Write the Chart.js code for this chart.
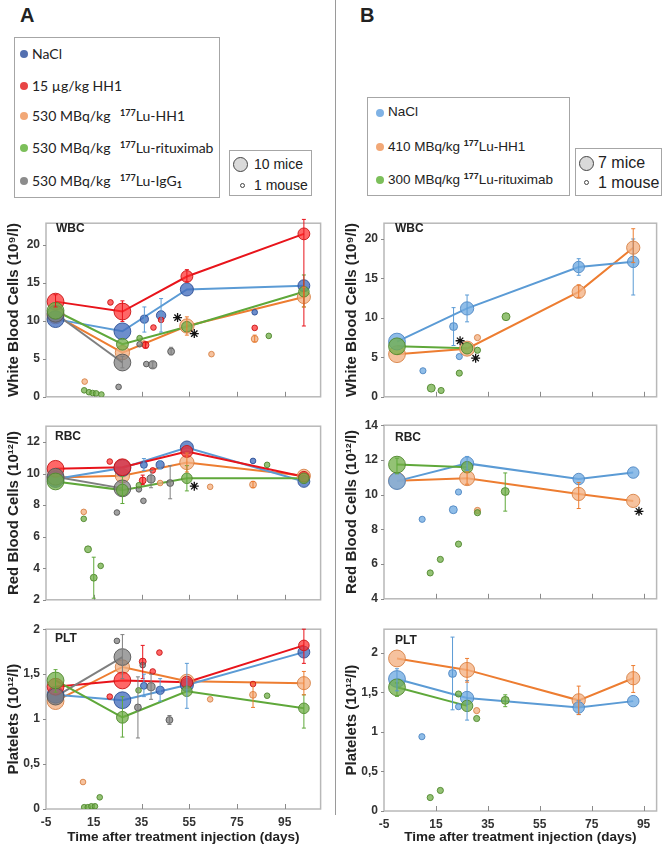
<!DOCTYPE html>
<html lang="en">
<head>
<meta charset="UTF-8" />
<title>Blood counts after treatment</title>
<script src="https://cdn.jsdelivr.net/npm/chart.js@4.4.1/dist/chart.umd.min.js"></script>
<style>
  body { margin: 0; width: 666px; height: 848px; position: relative; overflow: hidden; background: #fff; font-family: "Liberation Sans", Arial, sans-serif; color: #222; }
  canvas { position: absolute; }
  .letter { position: absolute; font: bold 20px "Liberation Sans", Arial, sans-serif; }
  .box { position: absolute; border: 1px solid #a6a6a6; background: #fff; }
  .item { position: absolute; white-space: nowrap; line-height: 18px; }
  .dot { position: absolute; border-radius: 50%; }
  .tag { position: absolute; font: bold 12px "Liberation Sans", Arial, sans-serif; }
  sup { font-size: 9px; font-weight: bold; vertical-align: 5px; }
  sub { font-size: 9px; font-weight: bold; vertical-align: -2px; }
</style>
</head>
<body>
  <div style="position:absolute;left:335px;top:0;width:1px;height:815px;background:#9a9a9a"></div>
  <div class="letter" style="left:20px;top:4px">A</div>
  <div class="letter" style="left:360px;top:4px">B</div>

  <!-- legend A -->
  <div class="box" style="left:14px;top:37px;width:204px;height:159px"></div>
  <div id="legA"></div>
  <div class="box" style="left:229px;top:150px;width:81px;height:44px"></div>
  <div class="dot" style="left:233px;top:157px;width:13px;height:13px;background:#d9d9d9;border:1.5px solid #444"></div>
  <div class="item" style="left:254px;top:155px;font-size:14px">10 mice</div>
  <div class="dot" style="left:240px;top:183px;width:3px;height:3px;border:1px solid #444"></div>
  <div class="item" style="left:254px;top:176px;font-size:14px">1 mouse</div>

  <!-- legend B -->
  <div class="box" style="left:367px;top:97px;width:201px;height:97px"></div>
  <div id="legB"></div>
  <div class="box" style="left:575px;top:148px;width:85px;height:46px"></div>
  <div class="dot" style="left:579px;top:156px;width:13px;height:13px;background:#d9d9d9;border:1.5px solid #444"></div>
  <div class="item" style="left:598px;top:154px;font-size:16px">7 mice</div>
  <div class="dot" style="left:584px;top:180px;width:3px;height:3px;border:1px solid #444"></div>
  <div class="item" style="left:598px;top:174px;font-size:16px">1 mouse</div>

  <canvas id="wbcA" width="330" height="200" style="left:0;top:210px"></canvas>
  <canvas id="rbcA" width="330" height="200" style="left:0;top:413px"></canvas>
  <canvas id="pltA" width="330" height="232" style="left:0;top:616px"></canvas>
  <canvas id="wbcB" width="328" height="200" style="left:338px;top:210px"></canvas>
  <canvas id="rbcB" width="328" height="200" style="left:338px;top:412px"></canvas>
  <canvas id="pltB" width="328" height="232" style="left:338px;top:616px"></canvas>

  <div class="tag" style="left:56px;top:221px">WBC</div>
  <div class="tag" style="left:55px;top:429px">RBC</div>
  <div class="tag" style="left:55px;top:631px">PLT</div>
  <div class="tag" style="left:395px;top:221px">WBC</div>
  <div class="tag" style="left:395px;top:430px">RBC</div>
  <div class="tag" style="left:395px;top:633px">PLT</div>

<script>
// ---- categories ----
const groupsA = ["Ritux", "IgG1", "HH1", "NaCl", "LuHH1"]; // drawing order, first on top
const groupsB = ["Ritux", "NaCl", "LuHH1"];
const legendA = [
  ["NaCl", "NaCl"],
  ["HH1", "15 µg/kg HH1"],
  ["LuHH1", "530 MBq/kg <span style='margin-left:6px'></span><sup>177</sup>Lu-HH1"],
  ["Ritux", "530 MBq/kg <span style='margin-left:6px'></span><sup>177</sup>Lu-rituximab"],
  ["IgG1", "530 MBq/kg <span style='margin-left:6px'></span><sup>177</sup>Lu-IgG<sub>1</sub>"]
];
const legendB = [
  ["NaCl", "NaCl"],
  ["LuHH1", "410 MBq/kg <sup>177</sup>Lu-HH1"],
  ["Ritux", "300 MBq/kg <sup>177</sup>Lu-rituximab"]
];
const xTicks = [-5, 15, 35, 55, 75, 95];
const xTitle = "Time after treatment injection (days)";

// rows: [group, day, value, mice, errLow, errHigh]
// ---- panel A, WBC (10^9/l) ----
const wbcA_mean = [
  ["NaCl", -1, 10.2, 10], ["NaCl", 27, 8.6, 10], ["NaCl", 54, 14.1, 7], ["NaCl", 103, 14.6, 6],
  ["HH1", -1, 12.5, 10, 11.8, 13.4], ["HH1", 27, 11.2, 10, 9.9, 12.6], ["HH1", 54, 15.8, 6, 15.1, 16.7], ["HH1", 103, 21.4, 6, 9.3, 23.3],
  ["LuHH1", -1, 10.7, 10], ["LuHH1", 27, 5.8, 8], ["LuHH1", 54, 9.3, 8, 8.1, 10.5], ["LuHH1", 103, 13.1, 7, 11.8, 14.4],
  ["Ritux", -1, 11.3, 10], ["Ritux", 27, 6.9, 6], ["Ritux", 54, 9.2, 5], ["Ritux", 103, 13.8, 5, 11.8, 16.0],
  ["IgG1", -1, 10.9, 10], ["IgG1", 27, 4.5, 10, 3.8, 5.3]
];
const wbcA_single = [
  ["HH1", 22, 12.4, 1], ["HH1", 36.7, 6.8, 2, 6.4, 7.2], ["HH1", 40, 9.1, 1], ["HH1", 43.2, 10.1, 1], ["HH1", 82.4, 9.05, 1],
  ["NaCl", 36.2, 10.2, 3, 8.5, 11.8], ["NaCl", 43.2, 10.7, 4, 8.5, 12.9], ["NaCl", 82.4, 11.1, 1],
  ["LuHH1", 11.2, 2.0, 1], ["LuHH1", 36, 7.0, 1], ["LuHH1", 64.3, 5.6, 1], ["LuHH1", 82.4, 7.6, 2, 7.2, 8.1],
  ["Ritux", 11, 0.85, 1], ["Ritux", 13, 0.6, 1], ["Ritux", 14.5, 0.5, 1], ["Ritux", 16, 0.45, 1], ["Ritux", 18.2, 0.3, 1],
  ["Ritux", 34.2, 7.7, 1], ["Ritux", 88.3, 8.0, 1],
  ["IgG1", 25.4, 1.3, 1], ["IgG1", 34.2, 6.9, 1], ["IgG1", 37, 4.3, 1], ["IgG1", 39.7, 4.2, 3, 3.8, 4.6], ["IgG1", 47.4, 5.95, 2, 5.5, 6.5]
];
const wbcA_stars = [[50.1, 10.4], [57.1, 8.3]];
const wbcA_yTicks = [0, 5, 10, 15, 20];

// ---- panel A, RBC (10^12/l) ----
const rbcA_mean = [
  ["NaCl", -1, 9.65, 10], ["NaCl", 27, 10.35, 10], ["NaCl", 54, 11.65, 7], ["NaCl", 103, 9.5, 6],
  ["HH1", -1, 10.3, 10], ["HH1", 27, 10.4, 10], ["HH1", 54, 11.4, 6], ["HH1", 103, 9.8, 5],
  ["LuHH1", -1, 9.75, 10], ["LuHH1", 27, 9.86, 8], ["LuHH1", 54, 10.7, 8, 10.1, 11.3], ["LuHH1", 103, 9.86, 7],
  ["Ritux", -1, 9.5, 10], ["Ritux", 27, 8.95, 6, 8.1, 9.8], ["Ritux", 54, 9.7, 5, 8.9, 10.5], ["Ritux", 103, 9.7, 5],
  ["IgG1", -1, 9.8, 10], ["IgG1", 27, 9.06, 10]
];
const rbcA_single = [
  ["HH1", 21.7, 10.76, 1], ["HH1", 39.7, 10.2, 1], ["HH1", 35.5, 9.56, 2, 9.3, 9.9],
  ["NaCl", 36, 10.55, 2, 10.2, 10.95], ["NaCl", 42.8, 10.55, 3, 10.3, 10.8], ["NaCl", 81.7, 10.8, 1],
  ["LuHH1", 10.8, 7.57, 1], ["LuHH1", 42.8, 9.4, 1], ["LuHH1", 63.75, 9.16, 1], ["LuHH1", 81.7, 9.3, 2, 9.1, 9.5],
  ["Ritux", 10.8, 7.13, 1], ["Ritux", 12.6, 5.2, 2], ["Ritux", 15, 3.4, 2, 2.1, 4.7], ["Ritux", 17.9, 4.15, 1],
  ["Ritux", 33.9, 9.26, 1], ["Ritux", 87.6, 10.55, 1],
  ["IgG1", 24.7, 7.53, 1], ["IgG1", 35.8, 8.27, 1], ["IgG1", 33.9, 9.0, 1], ["IgG1", 39, 9.66, 3, 9.1, 10.2], ["IgG1", 47, 9.4, 2, 8.4, 10.5]
];
const rbcA_stars = [[57.1, 9.2]];
const rbcA_yTicks = [2, 4, 6, 8, 10, 12];

// ---- panel A, PLT (10^12/l) ----
const pltA_mean = [
  ["NaCl", -1, 1.27, 10], ["NaCl", 27, 1.21, 10], ["NaCl", 54, 1.38, 7, 1.12, 1.62], ["NaCl", 103, 1.745, 6],
  ["HH1", -1, 1.36, 10], ["HH1", 27, 1.43, 10], ["HH1", 54, 1.41, 6], ["HH1", 103, 1.82, 5, 1.62, 2.0],
  ["LuHH1", -1, 1.2, 10], ["LuHH1", 27, 1.58, 8], ["LuHH1", 54, 1.42, 8], ["LuHH1", 103, 1.40, 7, 1.27, 1.53],
  ["Ritux", -1, 1.43, 10, 1.3, 1.55], ["Ritux", 27, 1.02, 6, 0.8, 1.25], ["Ritux", 54, 1.31, 5], ["Ritux", 103, 1.12, 5, 0.9, 1.27],
  ["IgG1", -1, 1.25, 10], ["IgG1", 27, 1.69, 10, 1.45, 1.94]
];
const pltA_single = [
  ["HH1", 21.7, 1.25, 1], ["HH1", 35.5, 1.64, 2, 1.45, 1.82], ["HH1", 39.7, 1.53, 1], ["HH1", 42.5, 1.74, 1], ["HH1", 81.7, 1.39, 1],
  ["NaCl", 36, 1.37, 2, 1.25, 1.5], ["NaCl", 42.8, 1.32, 3, 1.2, 1.45],
  ["LuHH1", 10.5, 0.3, 1], ["LuHH1", 63.75, 1.22, 1], ["LuHH1", 81.7, 1.27, 2, 1.13, 1.4],
  ["Ritux", 11, 0.02, 1], ["Ritux", 12.5, 0.02, 1], ["Ritux", 14, 0.03, 1], ["Ritux", 15.5, 0.03, 1], ["Ritux", 17.5, 0.13, 1],
  ["Ritux", 33.75, 1.32, 1], ["Ritux", 87.6, 1.26, 1],
  ["IgG1", 24.7, 1.87, 1], ["IgG1", 35.5, 1.6, 1], ["IgG1", 33.5, 1.13, 2, 0.79, 1.47], ["IgG1", 39, 1.36, 3, 1.22, 1.5], ["IgG1", 46.7, 0.99, 2, 0.94, 1.04]
];
const pltA_yTicks = [0, 0.5, 1, 1.5, 2];

// ---- panel B, WBC ----
const wbcB_mean = [
  ["NaCl", 0, 7.0, 7], ["NaCl", 27, 11.2, 5, 9.5, 12.9], ["NaCl", 70, 16.45, 4, 15.4, 17.5], ["NaCl", 91, 17.1, 4, 12.9, 20.0],
  ["LuHH1", 0, 5.4, 7], ["LuHH1", 27, 6.1, 6], ["LuHH1", 70, 13.3, 5, 12.6, 14.2], ["LuHH1", 91, 18.9, 5, 17.0, 21.3],
  ["Ritux", 0, 6.4, 7], ["Ritux", 27, 6.15, 4]
];
const wbcB_single = [
  ["NaCl", 10, 3.3, 1], ["NaCl", 21.8, 8.9, 2, 6.5, 11.3], ["NaCl", 24, 5.1, 1],
  ["LuHH1", 31, 7.5, 1],
  ["Ritux", 13.2, 1.1, 2], ["Ritux", 17, 0.8, 1], ["Ritux", 24, 3.0, 1], ["Ritux", 31, 5.9, 1], ["Ritux", 42, 10.15, 2]
];
const wbcB_stars = [[24.3, 7.1], [30.3, 4.9]];
const wbcB_yTicks = [0, 5, 10, 15, 20];

// ---- panel B, RBC ----
const rbcB_mean = [
  ["NaCl", 0, 10.78, 7], ["NaCl", 27, 11.8, 5, 11.4, 12.2], ["NaCl", 70, 10.9, 4], ["NaCl", 91, 11.27, 4],
  ["LuHH1", 0, 10.8, 7], ["LuHH1", 27, 10.95, 6, 10.6, 11.3], ["LuHH1", 70, 10.04, 5, 9.2, 10.7], ["LuHH1", 91, 9.64, 5],
  ["Ritux", 0, 11.73, 7, 11.2, 12.1], ["Ritux", 27, 11.58, 4]
];
const rbcB_single = [
  ["NaCl", 9.7, 8.58, 1], ["NaCl", 21.7, 9.13, 2], ["NaCl", 23.7, 10.15, 1],
  ["LuHH1", 31, 9.09, 1],
  ["Ritux", 12.8, 5.49, 1], ["Ritux", 16.7, 6.27, 1], ["Ritux", 23.7, 7.15, 1], ["Ritux", 31, 8.96, 1], ["Ritux", 41.7, 10.18, 2, 9.05, 11.25]
];
const rbcB_stars = [[93.2, 9.04]];
const rbcB_yTicks = [4, 6, 8, 10, 12, 14];

// ---- panel B, PLT ----
const pltB_mean = [
  ["NaCl", 0, 1.67, 7, 1.52, 1.8], ["NaCl", 27, 1.43, 5, 1.15, 1.65], ["NaCl", 70, 1.31, 4, 1.22, 1.4], ["NaCl", 91, 1.39, 4],
  ["LuHH1", 0, 1.93, 7], ["LuHH1", 27, 1.785, 6, 1.63, 1.93], ["LuHH1", 70, 1.40, 5, 1.22, 1.58], ["LuHH1", 91, 1.68, 5, 1.5, 1.84],
  ["Ritux", 0, 1.565, 7, 1.45, 1.62], ["Ritux", 27, 1.33, 4]
];
const pltB_single = [
  ["NaCl", 9.6, 0.94, 1], ["NaCl", 21.4, 1.74, 2, 1.28, 2.2], ["NaCl", 23.7, 1.32, 1],
  ["LuHH1", 30.7, 1.27, 1],
  ["Ritux", 12.8, 0.17, 1], ["Ritux", 16.7, 0.26, 1], ["Ritux", 23.7, 1.48, 1], ["Ritux", 30.7, 1.17, 1], ["Ritux", 41.7, 1.40, 2, 1.32, 1.47]
];
const pltB_yTicks = [0, 0.5, 1, 1.5, 2];

// ---- colours ----
const palA = {
  NaCl:  { fill: "rgba(68,110,190,0.78)",  edge: "rgba(45,80,150,0.9)",  line: "#5b9bd5", dot: "#5470b0" },
  HH1:   { fill: "rgba(255,45,45,0.72)",   edge: "rgba(200,20,20,0.9)",  line: "#e8141b", dot: "#e84545" },
  LuHH1: { fill: "rgba(244,177,131,0.78)", edge: "rgba(215,130,70,0.9)", line: "#ed7d31", dot: "#f2a877" },
  Ritux: { fill: "rgba(112,173,71,0.75)",  edge: "rgba(80,135,45,0.9)",  line: "#5fa83a", dot: "#7cbf5a" },
  IgG1:  { fill: "rgba(125,125,125,0.72)", edge: "rgba(85,85,85,0.9)",   line: "#7f7f7f", dot: "#8c8c8c" }
};
const palB = Object.assign({}, palA, {
  NaCl: { fill: "rgba(112,170,225,0.78)", edge: "rgba(80,135,195,0.9)", line: "#5b9bd5", dot: "#7fb2e5" }
});

// ---- legends ----
function buildLegend(el, entries, pal, x0, ys, font) {
  entries.forEach(([g, html], i) => {
    const d = document.createElement("div");
    d.className = "dot";
    d.style.cssText = `left:${x0 - 12}px;top:${ys[i] - 4}px;width:8px;height:8px;background:${pal[g].dot}`;
    el.appendChild(d);
    const t = document.createElement("div");
    t.className = "item";
    t.style.cssText = `left:${x0}px;top:${ys[i] - 9}px;font:${font}`;
    t.innerHTML = html;
    el.appendChild(t);
  });
}
buildLegend(document.getElementById("legA"), legendA, palA, 32, [54, 86, 116, 148, 181], "14px Lato, sans-serif");
buildLegend(document.getElementById("legB"), legendB, palB, 388, [113, 147, 180], "13.5px 'Liberation Sans', Arial, sans-serif");

// ---- plugins ----
const frame = {
  id: "frame",
  beforeDatasetsDraw(chart) {
    const { ctx, chartArea: a, scales: { x, y } } = chart;
    ctx.save();
    ctx.strokeStyle = "#b8b8b8";
    ctx.lineWidth = 1.5;
    ctx.strokeRect(a.left, a.top, a.right - a.left, a.bottom - a.top);
    ctx.strokeStyle = "#8a8a8a";
    ctx.lineWidth = 1;
    ctx.beginPath();
    x.ticks.forEach(t => {
      const px = Math.round(x.getPixelForValue(t.value)) + 0.5;
      if (px > a.left + 2) { ctx.moveTo(px, a.bottom); ctx.lineTo(px, a.bottom - 5); }
    });
    y.ticks.forEach(t => {
      const py = Math.round(y.getPixelForValue(t.value)) + 0.5;
      ctx.moveTo(a.left - 3, py); ctx.lineTo(a.left, py);
    });
    ctx.stroke();
    ctx.restore();
  }
};
const errorBars = {
  id: "errorBars",
  afterDatasetsDraw(chart) {
    const { ctx, scales: { x, y } } = chart;
    ctx.save();
    ctx.lineWidth = 1;
    chart.data.datasets.forEach(ds => {
      if (!ds.errColor) return;
      ctx.strokeStyle = ds.errColor;
      ds.data.forEach(p => {
        if (p.lo == null) return;
        const px = x.getPixelForValue(p.x);
        const yl = y.getPixelForValue(p.lo), yh = y.getPixelForValue(p.hi);
        ctx.beginPath();
        ctx.moveTo(px, yl); ctx.lineTo(px, yh);
        ctx.moveTo(px - 2, yl); ctx.lineTo(px + 2, yl);
        ctx.moveTo(px - 2, yh); ctx.lineTo(px + 2, yh);
        ctx.stroke();
      });
    });
    ctx.restore();
  }
};

const radius = (n, nMax) => 2.2 + 6.2 * n / nMax;
const tickFont = { family: "'Liberation Sans', Arial, sans-serif", size: 12, weight: "bold" };
const yTitleFont = { family: "'Liberation Sans', Arial, sans-serif", size: 15, weight: "bold" };
const xTitleFont = { family: "'Liberation Sans', Arial, sans-serif", size: 13.5, weight: "bold" };

function panel(id, o) {
  const datasets = [];
  o.stars && datasets.push({
    type: "scatter", data: o.stars.map(s => ({ x: s[0], y: s[1] })),
    pointStyle: "star", radius: 4.5, borderColor: "#111", borderWidth: 1.3, order: 0
  });
  o.groups.forEach(g => {
    const c = o.pal[g];
    const rows = o.mean.filter(r => r[0] === g).concat(o.single.filter(r => r[0] === g));
    datasets.push({
      type: "bubble",
      data: rows.map(r => ({ x: r[1], y: r[2], r: radius(r[3], o.nMax), lo: r[4], hi: r[5] })),
      backgroundColor: c.fill, borderColor: c.edge, borderWidth: 1, errColor: c.line, order: 1
    });
  });
  o.groups.forEach(g => {
    datasets.push({
      type: "line",
      data: o.mean.filter(r => r[0] === g).map(r => ({ x: r[1], y: r[2] })),
      borderColor: o.pal[g].line, borderWidth: 2, pointRadius: 0, fill: false, order: 2
    });
  });
  new Chart(document.getElementById(id), {
    data: { datasets },
    plugins: [frame, errorBars],
    options: {
      responsive: false, animation: false, devicePixelRatio: 1,
      layout: { padding: { top: o.pt, right: o.pr, left: 0, bottom: 0 } },
      plugins: { legend: { display: false }, tooltip: { enabled: false } },
      scales: {
        x: {
          type: "linear", min: -5, max: o.xMax,
          afterBuildTicks: s => { s.ticks = xTicks.map(v => ({ value: v })); },
          afterFit: s => { s.height = o.xh; },
          grid: { display: false, drawTicks: false }, border: { display: false },
          ticks: { display: o.showX, font: tickFont, color: "#333", padding: 6, maxRotation: 0, autoSkip: false },
          title: { display: o.showX, text: xTitle, font: xTitleFont, color: "#222", padding: { top: 0, bottom: 3 } }
        },
        y: {
          type: "linear", min: o.yMin, max: o.yMax,
          afterBuildTicks: s => { s.ticks = o.yTicks.map(v => ({ value: v })); },
          afterFit: s => { s.width = 46; },
          grid: { display: false, drawTicks: false }, border: { display: false },
          ticks: { font: tickFont, color: "#333", padding: 6, callback: v => String(v).replace(".", ",") },
          title: { display: true, text: o.yTitle, font: yTitleFont, color: "#222", padding: { top: 5, bottom: 5 } }
        }
      }
    }
  });
}

const baseA = { groups: groupsA, pal: palA, nMax: 10, xMax: 110, pr: 8 };
const baseB = { groups: groupsB, pal: palB, nMax: 7, xMax: 100, pr: 6 };
panel("wbcA", { ...baseA, mean: wbcA_mean, single: wbcA_single, stars: wbcA_stars, yTicks: wbcA_yTicks,
  yMin: 0, yMax: 22.8, yTitle: "White Blood Cells (10⁹/l)", pt: 8, xh: 8, showX: false });
panel("rbcA", { ...baseA, mean: rbcA_mean, single: rbcA_single, stars: rbcA_stars, yTicks: rbcA_yTicks,
  yMin: 2, yMax: 13, yTitle: "Red Blood Cells (10¹²/l)", pt: 8, xh: 8, showX: false });
panel("pltA", { ...baseA, mean: pltA_mean, single: pltA_single, yTicks: pltA_yTicks,
  yMin: 0, yMax: 2, yTitle: "Platelets (10¹²/l)", pt: 8, xh: 39, showX: true });
panel("wbcB", { ...baseB, mean: wbcB_mean, single: wbcB_single, stars: wbcB_stars, yTicks: wbcB_yTicks,
  yMin: 0, yMax: 22, yTitle: "White Blood Cells (10⁹/l)", pt: 8, xh: 8, showX: false });
panel("rbcB", { ...baseB, mean: rbcB_mean, single: rbcB_single, stars: rbcB_stars, yTicks: rbcB_yTicks,
  yMin: 4, yMax: 14, yTitle: "Red Blood Cells (10¹²/l)", pt: 8, xh: 5, showX: false });
panel("pltB", { ...baseB, mean: pltB_mean, single: pltB_single, yTicks: pltB_yTicks,
  yMin: 0, yMax: 2.3, yTitle: "Platelets (10¹²/l)", pt: 9, xh: 37, showX: true });
</script>
</body>
</html>
